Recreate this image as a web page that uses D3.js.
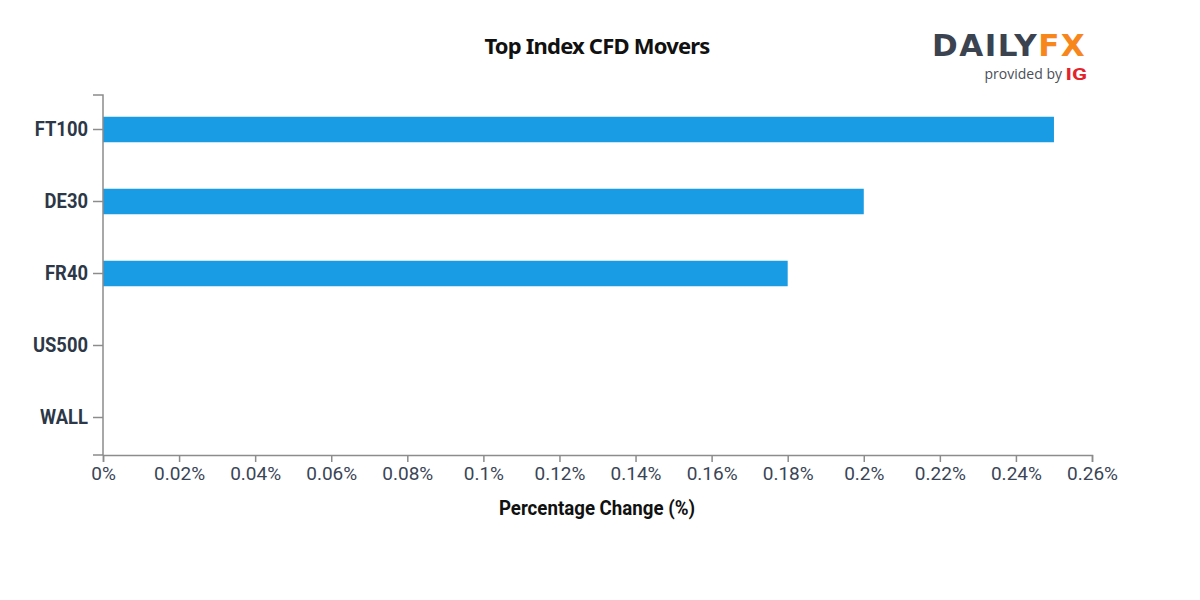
<!DOCTYPE html>
<html>
<head>
<meta charset="utf-8">
<script src="https://cdn.jsdelivr.net/npm/d3@7"></script>
<style>
  html, body { margin: 0; padding: 0; background: #fff; }
  svg { display: block; }
</style>
</head>
<body>
<svg id="chart" width="1200" height="600"></svg>
<script>
const categories = ["FT100", "DE30", "FR40", "US500", "WALL"];
const values = [0.25, 0.2, 0.18, 0, 0];
const xTicks = [0, 0.02, 0.04, 0.06, 0.08, 0.1, 0.12, 0.14, 0.16, 0.18, 0.2, 0.22, 0.24, 0.26];
const xTickLabels = ["0%", "0.02%", "0.04%", "0.06%", "0.08%", "0.1%", "0.12%", "0.14%", "0.16%", "0.18%", "0.2%", "0.22%", "0.24%", "0.26%"];
const titleText = "Top Index CFD Movers";
const xAxisTitle = "Percentage Change (%)";

const svg = d3.select("#chart");
const mLeft = 103, mRight = 1092, mTop = 95, mBottom = 455;
const axisColor = "#8c8c8c";
const textColor = "#2c3747";

const x = d3.scaleLinear().domain([0, 0.26]).range([mLeft, mRight]);
const y = d3.scaleBand().domain(categories).range([mTop - 1.5, mBottom - 1.5]).paddingInner(0.646).paddingOuter(0.323);

// bars
svg.append("g").selectAll("rect").data(categories).join("rect")
  .attr("x", x(0))
  .attr("y", (d) => y(d))
  .attr("width", (d, i) => x(values[i]) - x(0))
  .attr("height", y.bandwidth())
  .attr("fill", "#1a9ce4");

// y axis
const ySx = 0.92;
const yAxis = svg.append("g").attr("transform", `translate(${mLeft},0)`)
  .call(d3.axisLeft(y).tickSize(10).tickSizeOuter(0).tickPadding(5));
yAxis.select(".domain").remove();
yAxis.selectAll(".tick line").attr("stroke", axisColor).attr("stroke-width", 1.5);
yAxis.selectAll(".tick text")
  .attr("fill", textColor)
  .attr("x", -15 / ySx)
  .attr("transform", `scale(${ySx},1)`)
  .style("font-family", "Roboto, sans-serif")
  .style("font-weight", "700")
  .style("font-size", "20px");
svg.append("path")
  .attr("d", `M${mLeft - 10},${mTop}H${mLeft}V${mBottom}H${mLeft - 10}`)
  .attr("fill", "none").attr("stroke", axisColor).attr("stroke-width", 1.5);

// x axis
const xAxis = svg.append("g").attr("transform", `translate(0,${mBottom})`)
  .call(d3.axisBottom(x).tickValues(xTicks).tickFormat((d, i) => xTickLabels[i]).tickSize(7).tickSizeOuter(7).tickPadding(6));
xAxis.select(".domain").attr("stroke", axisColor).attr("stroke-width", 1.5);
xAxis.selectAll(".tick line").attr("stroke", axisColor).attr("stroke-width", 1.5);
xAxis.selectAll(".tick text")
  .attr("fill", "#3a4556")
  .attr("y", 12)
  .style("font-family", "Roboto, sans-serif")
  .style("font-weight", "400")
  .style("font-size", "19px");

// title
svg.append("text")
  .attr("x", 597).attr("y", 54)
  .attr("text-anchor", "middle")
  .attr("fill", "#111")
  .style("font-family", "'Noto Sans', sans-serif")
  .style("font-weight", "700")
  .style("font-size", "22px")
  .style("letter-spacing", "-0.8px")
  .text(titleText);

// x axis title
const tSx = 0.89;
svg.append("text")
  .attr("x", 597 / tSx).attr("y", 515)
  .attr("transform", `scale(${tSx},1)`)
  .attr("text-anchor", "middle")
  .attr("fill", "#111")
  .style("font-family", "Roboto, sans-serif")
  .style("font-weight", "700")
  .style("font-size", "21px")
  .text(xAxisTitle);

// logo
const logo = svg.append("g");
logo.append("text")
  .attr("x", 932).attr("y", 56)
  .style("font-family", "'DejaVu Sans', sans-serif")
  .style("font-weight", "700")
  .style("font-size", "31px")
  .style("letter-spacing", "1.5px")
  .call((t) => {
    t.append("tspan").attr("fill", "#3b4250").text("DAILY");
    t.append("tspan").attr("fill", "#f7861c").text("FX");
  });
logo.append("text")
  .attr("x", 1062).attr("y", 79)
  .attr("text-anchor", "end")
  .attr("fill", "#4a4f57")
  .style("font-family", "'Open Sans', sans-serif")
  .style("font-size", "14px")
  .text("provided by");
const igSx = 1.3;
logo.append("text")
  .attr("x", 1087 / igSx).attr("y", 80)
  .attr("transform", `scale(${igSx},1)`)
  .attr("text-anchor", "end")
  .attr("fill", "#e3232b")
  .style("font-family", "Roboto, sans-serif")
  .style("font-weight", "700")
  .style("font-size", "17px")
  .text("IG");
</script>
</body>
</html>
